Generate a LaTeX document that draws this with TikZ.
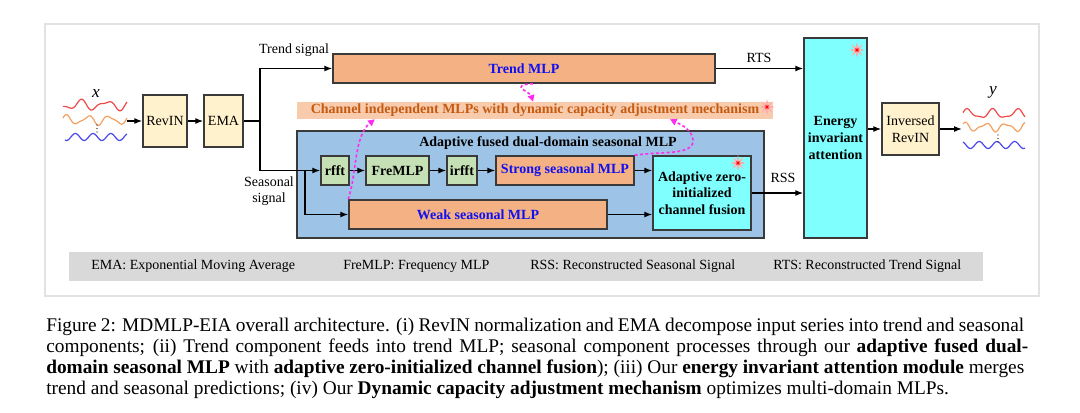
\documentclass[tikz,border=0pt]{standalone}
\usepackage{fontspec}
\setmainfont{Liberation Serif}
\usetikzlibrary{arrows.meta,shapes.geometric,calc}
\newdimen\pxu \pxu=0.75pt
\definecolor{beige}{HTML}{FFF2CC}
\definecolor{salmon}{HTML}{F4B183}
\definecolor{peach}{HTML}{F8CBAD}
\definecolor{burnt}{HTML}{C55A11}
\definecolor{skyb}{HTML}{9DC3E6}
\definecolor{mint}{HTML}{C5E0B4}
\definecolor{aqua}{HTML}{80FFFF}
\definecolor{bordc}{HTML}{3A3A3A}
\definecolor{legg}{HTML}{D9D9D9}
\definecolor{framec}{HTML}{E2E2E2}
\definecolor{magc}{HTML}{FF2BF0}
\definecolor{txtblue}{HTML}{1010F0}
\definecolor{wred}{HTML}{F04848}
\definecolor{wora}{HTML}{F4A060}
\definecolor{wblu}{HTML}{4848F0}
\newcommand\diafont{\fontsize{10.5pt}{12.4pt}\selectfont}
\newcommand\capfont{\fontsize{14.5pt}{15.75pt}\selectfont}
\begin{document}
\begin{tikzpicture}[x=0.75pt,y=-0.75pt,
  blk/.style={draw=bordc, line width=1.1pt, inner sep=0pt, align=center, font=\diafont},
  arr/.style={-{Latex[length=6pt,width=4.5pt]}, line width=0.9pt, black},
  ln/.style={line width=0.9pt, black},
  mag/.style={magc, line width=1.2pt, dash pattern=on 2.2pt off 1.8pt, -{Triangle[length=5pt,width=5pt]}},
  lbl/.style={font=\diafont, inner sep=0pt},
  redstar/.style={star, star points=8, star point ratio=3, fill=red, draw=red!30, line width=0.6pt, inner sep=0pt, minimum size=12\pxu},
  wave/.style={line width=0.9pt, smooth}
]
\useasboundingbox (0,0) rectangle (1080,412);
% outer frame
\draw[framec, line width=1pt] (45,24) rectangle (1039,296);

% blue container
\node[blk, fill=skyb, minimum width=467\pxu, minimum height=107\pxu] (afd) at (530.5,184.5) {};
\node[lbl, font=\diafont\bfseries] (afdt) at (548,143) {Adaptive fused dual-domain seasonal MLP};

% boxes
\node[blk, fill=beige, minimum width=44\pxu, minimum height=52\pxu] (revin) at (165,121) {RevIN};
\node[blk, fill=beige, minimum width=39\pxu, minimum height=52\pxu] (ema) at (223.5,121) {EMA};
\node[blk, fill=salmon, minimum width=382\pxu, minimum height=29\pxu, font=\diafont\bfseries, text=txtblue] (trend) at (524,68.5) {Trend MLP};
\node[inner sep=0pt, fill=peach, minimum width=476\pxu, minimum height=17\pxu, font=\diafont\bfseries, text=burnt] (chan) at (535,110.5) {Channel independent MLPs with dynamic capacity adjustment mechanism};
\node[blk, fill=mint, minimum width=28\pxu, minimum height=29\pxu, font=\diafont\bfseries] (rfft) at (335,170.5) {rfft};
\node[blk, fill=mint, minimum width=63\pxu, minimum height=29\pxu, font=\diafont\bfseries] (fremlp) at (397.5,170.5) {FreMLP};
\node[blk, fill=mint, minimum width=30\pxu, minimum height=29\pxu, font=\diafont\bfseries] (irfft) at (462,170.5) {irfft};
\node[blk, fill=salmon, minimum width=138\pxu, minimum height=29\pxu, font=\diafont\bfseries, text=txtblue] (strong) at (565,170.5) {Strong seasonal MLP};
\node[blk, fill=salmon, minimum width=258\pxu, minimum height=29\pxu, font=\diafont\bfseries, text=txtblue] (weak) at (478,214.5) {Weak seasonal MLP};
\node[blk, fill=aqua, minimum width=98\pxu, minimum height=74\pxu, font=\diafont\bfseries] (fusion) at (702,193) {Adaptive zero-\\initialized\\channel fusion};
\node[blk, fill=aqua, minimum width=63\pxu, minimum height=200\pxu, font=\diafont\bfseries] (energy) at (835.5,138) {Energy\\invariant\\attention};
\node[blk, fill=beige, minimum width=57\pxu, minimum height=52\pxu] (inv) at (910.5,129) {Inversed\\RevIN};

% stars
\node[redstar] (st1) at (857,50) {};
\node[redstar] (st2) at (767,107) {};
\node[redstar] (st3) at (738,163) {};

% labels
\node[lbl] (tsig) at (294,50) {Trend signal};
\node[lbl, align=center] (ssig) at (269,191) {Seasonal\\signal};
\node[lbl] (rts) at (759,58) {RTS};
\node[lbl] (rss) at (783,178) {RSS};
\node[inner sep=0pt, font=\fontsize{13pt}{14pt}\selectfont\itshape] (xl) at (96,94) {x};
\node[inner sep=0pt, font=\fontsize{13pt}{14pt}\selectfont\itshape] (yl) at (993,92) {y};

% input waves
\draw[wave, wred] plot[domain=0:1, samples=60, variable=\t] ({63+64*\t},{105-4*sin(900*\t+200)-2*sin(1500*\t)});
\draw[wave, wora] plot[domain=0:1, samples=60, variable=\t] ({63+64*\t},{120-4*sin(1080*\t+30)-1.5*sin(1800*\t)});
\draw[wave, wblu] plot[domain=0:1, samples=60, variable=\t] ({65+62*\t},{137+3.5*sin(1260*\t+60)});
\foreach \yy in {125,128.5,132} \fill (97,\yy) circle (0.5pt);
% output waves
\draw[wave, wred] plot[domain=0:1, samples=60, variable=\t] ({963+62*\t},{114-4*sin(900*\t+20)-1.5*sin(1700*\t)});
\draw[wave, wora] plot[domain=0:1, samples=60, variable=\t] ({963+62*\t},{127-3.5*sin(1080*\t+60)-1.5*sin(1900*\t)});
\draw[wave, wblu] plot[domain=0:1, samples=60, variable=\t] ({963+62*\t},{145-3.5*sin(1260*\t+120)});
\foreach \yy in {135,138.5,142} \fill (998,\yy) circle (0.5pt);

% coordinates
\coordinate (win) at (127,121);
\coordinate (wout) at (962,129);
\coordinate (split) at (260,121);
\coordinate (split2) at (305,170.5);

% connectors
\draw[arr] (win) -- (revin);
\draw[arr] (revin) -- (ema);
\draw[ln] (ema.east) -- (split);
\draw[arr] (split) |- (trend.west);
\draw[arr] (split) |- (rfft.west);
\draw[arr] (split2) |- (weak.west);
\draw[arr] (rfft) -- (fremlp);
\draw[arr] (fremlp) -- (irfft);
\draw[arr] (irfft) -- (strong);
\draw[arr] (strong.east) -- (strong.east -| fusion.west);
\draw[arr] (weak.east) -- (weak.east -| fusion.west);
\draw[arr] (fusion.east) -- (fusion.east -| energy.west);
\draw[arr] (trend.east) -- (trend.east -| energy.west);
\draw[arr] (inv.west -| energy.east) -- (inv.west);
\draw[arr] (inv.east) -- (wout);

% magenta dashed arrows
\draw[mag] ([xshift=9\pxu]trend.south) .. controls (508,85) and (530,92) .. ([xshift=-2\pxu]chan.north);
\draw[mag] (weak.north west) .. controls (357,172) and (354,136) .. ([xshift=78\pxu]chan.south west);
\draw[mag] (strong.north east) .. controls (660,151) and (694,156) .. (693,140) .. controls (692,130) and (682,125) .. ([xshift=135\pxu]chan.south);

% legend
\node[fill=legg, minimum width=914\pxu, minimum height=29\pxu, inner sep=0pt] (leg) at (526,266.5) {};
\node[lbl, anchor=west] (l1) at (91,266) {EMA: Exponential Moving Average};
\node[lbl, anchor=west] (l2) at (343,266) {FreMLP: Frequency MLP};
\node[lbl, anchor=west] (l3) at (530,266) {RSS: Reconstructed Seasonal Signal};
\node[lbl, anchor=west] (l4) at (773,266) {RTS: Reconstructed Trend Signal};

% caption
\node[anchor=base west, inner sep=0pt, font=\capfont] (c1) at (46,331) {\makebox[733.5pt][s]{Figure 2: MDMLP-EIA overall architecture. (i) RevIN normalization and EMA decompose input series into trend and seasonal}};
\node[anchor=base west, inner sep=0pt, font=\capfont] (c2) at (46,352) {\makebox[736.5pt][s]{components; (ii) Trend component feeds into trend MLP; seasonal component processes through our \textbf{adaptive fused dual-}}};
\node[anchor=base west, inner sep=0pt, font=\capfont] (c3) at (46,373) {\makebox[733.5pt][s]{\textbf{domain seasonal MLP} with \textbf{adaptive zero-initialized channel fusion}); (iii) Our \textbf{energy invariant attention module} merges}};
\node[anchor=base west, inner sep=0pt, font=\capfont] (c4) at (46,394) {trend and seasonal predictions; (iv) Our \textbf{Dynamic capacity adjustment mechanism} optimizes multi-domain MLPs.};
\end{tikzpicture}
\end{document}
